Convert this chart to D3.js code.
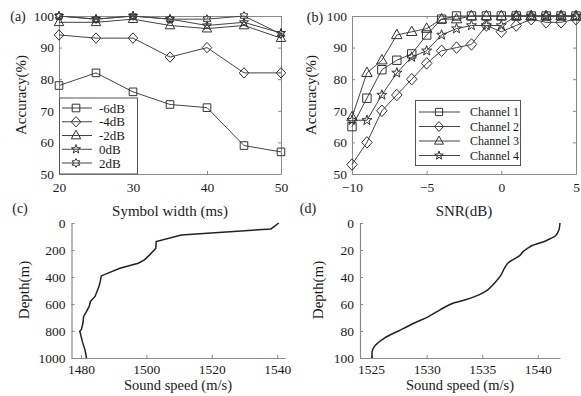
<!DOCTYPE html>
<html><head><meta charset="utf-8">
<script src="https://cdn.jsdelivr.net/npm/d3@7"></script>
<style>
body{margin:0;background:#fff;}
svg{display:block;font-family:"Liberation Serif","DejaVu Serif",serif;}
</style></head>
<body>
<svg id="c" width="581" height="396"></svg>
<script>
// ---------- data ----------
const symbolWidth = [20, 25, 30, 35, 40, 45, 50];
const snrNames = ["-6dB", "-4dB", "-2dB", "0dB", "2dB"];
const accM6 = [78, 82, 76, 72, 71, 59, 57];
const accM4 = [94, 93, 93, 87, 90, 82, 82];
const accM2 = [98, 98, 99, 97, 96, 97, 93];
const acc0  = [100, 99, 100, 99, 97, 98, 94.6];
const acc2  = [100, 99, 100, 99, 99, 100, 94.3];

const snr = [-10, -9, -8, -7, -6, -5, -4, -3, -2, -1, 0, 1, 2, 3, 4, 5];
const channelNames = ["Channel 1", "Channel 2", "Channel 3", "Channel 4"];
const ch1 = [65, 74, 83, 86, 88, 94, 99, 100, 100, 100, 100, 100, 100, 100, 100, 100];
const ch2 = [53, 60, 70, 75, 80, 85, 89, 90, 91, 97, 95, 97, 99, 98, 98, 99];
const ch3 = [68, 82, 86, 94, 95, 96, 99, 99, 100, 100, 100, 100, 100, 100, 100, 100];
const ch4 = [67, 67, 75, 82, 87, 89, 94, 96, 97, 97, 97, 100, 100, 100, 100, 100];

const aXTicks = [20, 30, 40, 50];
const accTicks = [50, 60, 70, 80, 90, 100];
const bXTicks = [-10, -5, 0, 5];

const cSpeed = [1540.5, 1538.1, 1510.7, 1503.0, 1502.9, 1501.0, 1499.4, 1497.5, 1491.9, 1486.2, 1485.9, 1485.5, 1484.3, 1482.9, 1482.5, 1481.7, 1480.8, 1480.6, 1480.1, 1479.6, 1479.8, 1480.4, 1481.2, 1481.7];
const cDepth = [0, 44, 89, 138, 187, 236, 273, 298, 335, 392, 433, 470, 544, 581, 618, 655, 692, 741, 790, 803, 815, 877, 938, 1000];
const cXTicks = [1480, 1500, 1520, 1540];
const cYTicks = [0, 200, 400, 600, 800, 1000];

const dSpeed = [1542.0, 1541.9, 1541.6, 1541.2, 1540.7, 1540.1, 1539.5, 1539.1, 1538.7, 1538.4, 1537.9, 1537.3, 1537.0, 1536.7, 1536.1, 1535.5, 1534.7, 1533.5, 1532.2, 1531.2, 1530.2, 1528.9, 1527.5, 1526.2, 1525.6, 1525.3, 1525.1, 1525.1];
const dDepth = [0, 5.2, 9.4, 11.3, 13.3, 15, 16.7, 18.7, 21, 24, 26.6, 29.8, 33.5, 38.4, 44.6, 49.5, 53.2, 56.9, 60, 64.3, 69.2, 74.1, 79.8, 85.2, 88.9, 91.4, 95, 100];
const dXTicks = [1525, 1530, 1535, 1540];
const dYTicks = [0, 20, 40, 60, 80, 100];

// ---------- helpers ----------
const svg = d3.select("#c");
const LINE = "#444", BOX = "#8a8a8a", TXT = "#1a1a1a";
const fmt = d3.format("d");

function poly(pts){ return "M" + pts.map(p => p[0].toFixed(2) + "," + p[1].toFixed(2)).join("L") + "Z"; }
function starPts(n, ro, ri){
  const p = [];
  for (let i = 0; i < 2*n; i++){
    const a = -Math.PI/2 + i*Math.PI/n, r = i%2 ? ri : ro;
    p.push([r*Math.cos(a), r*Math.sin(a)]);
  }
  return p;
}
function marker(type, s){
  s = s || 1;
  switch(type){
    case "square": return poly([[-4*s,-4*s],[4*s,-4*s],[4*s,4*s],[-4*s,4*s]]);
    case "diamond": return poly([[0,-5.5*s],[5*s,0],[0,5.5*s],[-5*s,0]]);
    case "triangle": return poly([[0,-5.5*s],[5*s,3.5*s],[-5*s,3.5*s]]);
    case "star": return poly(starPts(5, 5*s, 2*s));
    case "hexagram": return poly(starPts(6, 4.6*s, 2.7*s));
  }
}

function styleAxis(a, col){
  a.select(".domain").attr("stroke", col);
  a.selectAll(".tick line").attr("stroke", col);
  a.selectAll(".tick text").attr("fill", TXT).style("font-size", "13.5px").style("font-family", "Liberation Serif");
}

function frameAxes(g, x, y, xt, yt, w0, w1, h0, h1){
  const ax = g.append("g").attr("transform", `translate(0,${h1})`)
    .call(d3.axisBottom(x).tickValues(xt).tickFormat(fmt).tickSizeInner(-3).tickSizeOuter(0).tickPadding(8));
  const ay = g.append("g").attr("transform", `translate(${w0},0)`)
    .call(d3.axisLeft(y).tickValues(yt).tickFormat(fmt).tickSizeInner(-3).tickSizeOuter(0).tickPadding(5));
  const at = g.append("g").attr("transform", `translate(0,${h0})`)
    .call(d3.axisTop(x).tickValues(xt).tickSizeInner(-3).tickSizeOuter(0).tickFormat(""));
  const ar = g.append("g").attr("transform", `translate(${w1},0)`)
    .call(d3.axisRight(y).tickValues(yt).tickSizeInner(-3).tickSizeOuter(0).tickFormat(""));
  [ax, ay, at, ar].forEach(a => styleAxis(a, BOX));
}

function openAxes(g, x, y, xt, yt, w0, h1){
  const ax = g.append("g").attr("transform", `translate(0,${h1})`)
    .call(d3.axisBottom(x).tickValues(xt).tickFormat(fmt).tickSizeInner(-3).tickSizeOuter(0).tickPadding(6));
  const ay = g.append("g").attr("transform", `translate(${w0},0)`)
    .call(d3.axisLeft(y).tickValues(yt).tickFormat(fmt).tickSizeInner(-3).tickSizeOuter(0).tickPadding(6));
  [ax, ay].forEach(a => { styleAxis(a, "#8a8a8a"); a.select(".domain").attr("stroke-width", 1.2); });
}

function label(t, x, y, size, rot){
  const e = svg.append("text").text(t).attr("fill", TXT)
    .attr("text-anchor", "middle").style("font-size", size + "px");
  if (rot) e.attr("transform", `translate(${x},${y}) rotate(-90)`).attr("dy", "0.35em");
  else e.attr("x", x).attr("y", y).attr("dy", "0.35em");
}

// ---------- panel (a) ----------
{
  const x = d3.scaleLinear().domain([20, 50]).range([59, 281]);
  const y = d3.scaleLinear().domain([50, 100]).range([174, 16]);
  const g = svg.append("g");
  frameAxes(g, x, y, aXTicks, accTicks, 59, 281, 16, 174);
  const series = [accM6, accM4, accM2, acc0, acc2];
  const types = ["square", "diamond", "triangle", "star", "hexagram"];
  const ln = d3.line().x((d, i) => x(symbolWidth[i])).y(d => y(d));
  series.forEach((s, k) => {
    g.append("path").attr("d", ln(s)).attr("fill", "none").attr("stroke", LINE).attr("stroke-width", 1);
    g.selectAll(null).data(s).join("path")
      .attr("transform", (d, i) => `translate(${x(symbolWidth[i])},${y(d)})`)
      .attr("d", marker(types[k], 0.95)).attr("fill", "none").attr("stroke", "#333").attr("stroke-width", 1);
  });
  const lg = g.append("g");
  lg.append("rect").attr("x", 59.5).attr("y", 98).attr("width", 78).attr("height", 76)
    .attr("fill", "#fff").attr("stroke", "#555");
  snrNames.forEach((n, k) => {
    const yy = 108 + k*13.75;
    lg.append("line").attr("x1", 62).attr("x2", 92).attr("y1", yy).attr("y2", yy).attr("stroke", LINE);
    lg.append("path").attr("transform", `translate(76,${yy})`).attr("d", marker(types[k], 0.95))
      .attr("fill", "none").attr("stroke", "#333");
    lg.append("text").attr("x", 99).attr("y", yy).attr("dy", "0.35em").text(n)
      .attr("fill", TXT).style("font-size", "13px");
  });
}

// ---------- panel (b) ----------
{
  const x = d3.scaleLinear().domain([-10, 5]).range([352, 576]);
  const y = d3.scaleLinear().domain([50, 100]).range([174, 16]);
  const g = svg.append("g");
  frameAxes(g, x, y, bXTicks, accTicks, 352, 576, 16, 174);
  const series = [ch1, ch2, ch3, ch4];
  const types = ["square", "diamond", "triangle", "star"];
  const ln = d3.line().x((d, i) => x(snr[i])).y(d => y(d));
  series.forEach((s, k) => {
    g.append("path").attr("d", ln(s)).attr("fill", "none").attr("stroke", LINE).attr("stroke-width", 1);
    g.selectAll(null).data(s).join("path")
      .attr("transform", (d, i) => `translate(${x(snr[i])},${y(d)})`)
      .attr("d", marker(types[k], 1.05)).attr("fill", "none").attr("stroke", "#333").attr("stroke-width", 1);
  });
  const lg = g.append("g");
  lg.append("rect").attr("x", 415.5).attr("y", 100.5).attr("width", 105).attr("height", 65)
    .attr("fill", "#fff").attr("stroke", "#555");
  channelNames.forEach((n, k) => {
    const yy = 112 + k*14.5;
    lg.append("line").attr("x1", 419).attr("x2", 460).attr("y1", yy).attr("y2", yy).attr("stroke", LINE);
    lg.append("path").attr("transform", `translate(439,${yy})`).attr("d", marker(types[k], 0.9))
      .attr("fill", "none").attr("stroke", "#333");
    lg.append("text").attr("x", 470).attr("y", yy).attr("dy", "0.35em").text(n)
      .attr("fill", TXT).style("font-size", "12px");
  });
}

// ---------- panel (c) ----------
{
  const x = d3.scaleLinear().domain([1477.1, 1542.4]).range([71.5, 285]);
  const y = d3.scaleLinear().domain([0, 1000]).range([223, 358]);
  const g = svg.append("g");
  openAxes(g, x, y, cXTicks, cYTicks, 71.5, 358);
  const ln = d3.line().x(d => x(d[0])).y(d => y(d[1]));
  g.append("path").attr("d", ln(cSpeed.map((s, i) => [s, cDepth[i]])))
    .attr("fill", "none").attr("stroke", "#222").attr("stroke-width", 1.5);
}

// ---------- panel (d) ----------
{
  const x = d3.scaleLinear().domain([1524, 1542]).range([360, 560]);
  const y = d3.scaleLinear().domain([0, 100]).range([223, 358]);
  const g = svg.append("g");
  openAxes(g, x, y, dXTicks, dYTicks, 360, 358);
  const ln = d3.line().curve(d3.curveCatmullRom).x(d => x(d[0])).y(d => y(d[1]));
  g.append("path").attr("d", ln(dSpeed.map((s, i) => [s, dDepth[i]])))
    .attr("fill", "none").attr("stroke", "#222").attr("stroke-width", 1.5);
}

// ---------- labels ----------
label("(a)", 18, 16, 14);
label("(b)", 315, 17, 14);
label("(c)", 20, 208, 14);
label("(d)", 308, 208, 14);
label("Accuracy(%)", 21, 95, 15, true);
label("Accuracy(%)", 311, 95, 15, true);
label("Symbol width (ms)", 170, 211, 15);
label("SNR(dB)", 464, 211, 15);
label("Depth(m)", 24, 290, 15, true);
label("Depth(m)", 318, 290, 15, true);
label("Sound speed (m/s)", 178, 385, 14.5);
label("Sound speed (m/s)", 460, 385, 14.5);
</script>
</body></html>
